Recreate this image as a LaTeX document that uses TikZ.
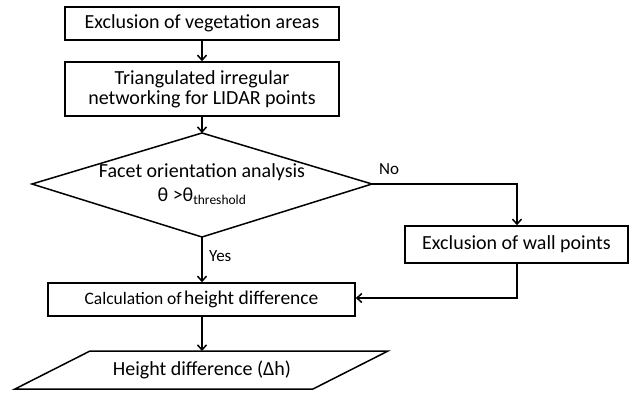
\documentclass[tikz,border=0pt]{standalone}
\usepackage{fontspec}
\setmainfont{Carlito}
\usetikzlibrary{arrows.meta,calc}
\tikzset{
  procbox/.style={draw, line width=1.5pt, align=center, inner sep=0pt},
  flow/.style={line width=1.5pt, -{Straight Barb[length=5pt,width=9pt,line width=1.5pt]}},
  link/.style={line width=1.5pt},
  lbl/.style={font=\fontsize{17}{20}\selectfont, inner sep=0pt},
  body/.style={font=\fontsize{20}{24}\selectfont}
}
\begin{document}
\begin{tikzpicture}[x=1pt,y=-1pt]
  \useasboundingbox (0,0) rectangle (635,392);
  % main column boxes
  \node[procbox, body, minimum width=274pt, minimum height=33pt] (veg) at (202,23.5) {Exclusion of vegetation areas};
  \node[procbox, font=\fontsize{20}{20}\selectfont, minimum width=274pt, minimum height=54pt] (tin) at (202,89)
    {Triangulated irregular\\networking for LIDAR points};
  % decision diamond
  \coordinate (dT) at (202,133);
  \coordinate (dR) at (372,184);
  \coordinate (dB) at (202,237);
  \coordinate (dL) at (32,184);
  \draw[link, line join=miter] (dT) -- (dR) -- (dB) -- (dL) -- cycle;
  \node[body, align=center] (dec) at (202,184)
    {Facet orientation analysis\\θ >θ\textsubscript{\fontsize{13.5}{14}\selectfont threshold}};
  % side branch
  \node[procbox, body, minimum width=223pt, minimum height=37pt] (wall) at (516.5,244.5) {Exclusion of wall points};
  % calculation box
  \node[procbox, minimum width=307pt, minimum height=33pt] (calc) at (201.5,299.5)
    {{\fontsize{17.5}{20}\selectfont Calculation of} {\fontsize{19.5}{23}\selectfont height difference}};
  % output parallelogram
  \coordinate (pTL) at (90,351);
  \coordinate (pTR) at (388,351);
  \coordinate (pBR) at (313,389);
  \coordinate (pBL) at (15,389);
  \draw[link, line join=miter] (pTL) -- (pTR) -- (pBR) -- (pBL) -- cycle;
  \node[body] (out) at (202,370) {Height difference (Δh)};
  \coordinate (outT) at (202,351);
  % connectors
  \draw[flow] (veg) -- (tin);
  \draw[flow] (tin.south) -- (dT);
  \coordinate (nCorner) at (517,184);
  \draw[flow] (dR) -- (nCorner) -- (wall.north -| nCorner);
  \coordinate (wCorner) at (517,298);
  \draw[flow] (wall.south -| wCorner) -- (wCorner) -- (calc.east |- wCorner);
  \draw[flow] (dB) -- (calc.north -| dB);
  \draw[flow] (calc.south -| outT) -- (outT);
  % branch labels
  \node[lbl, anchor=west] (no) at (379,169) {No};
  \node[lbl, anchor=west] (yes) at (209,256) {Yes};
\end{tikzpicture}
\end{document}
